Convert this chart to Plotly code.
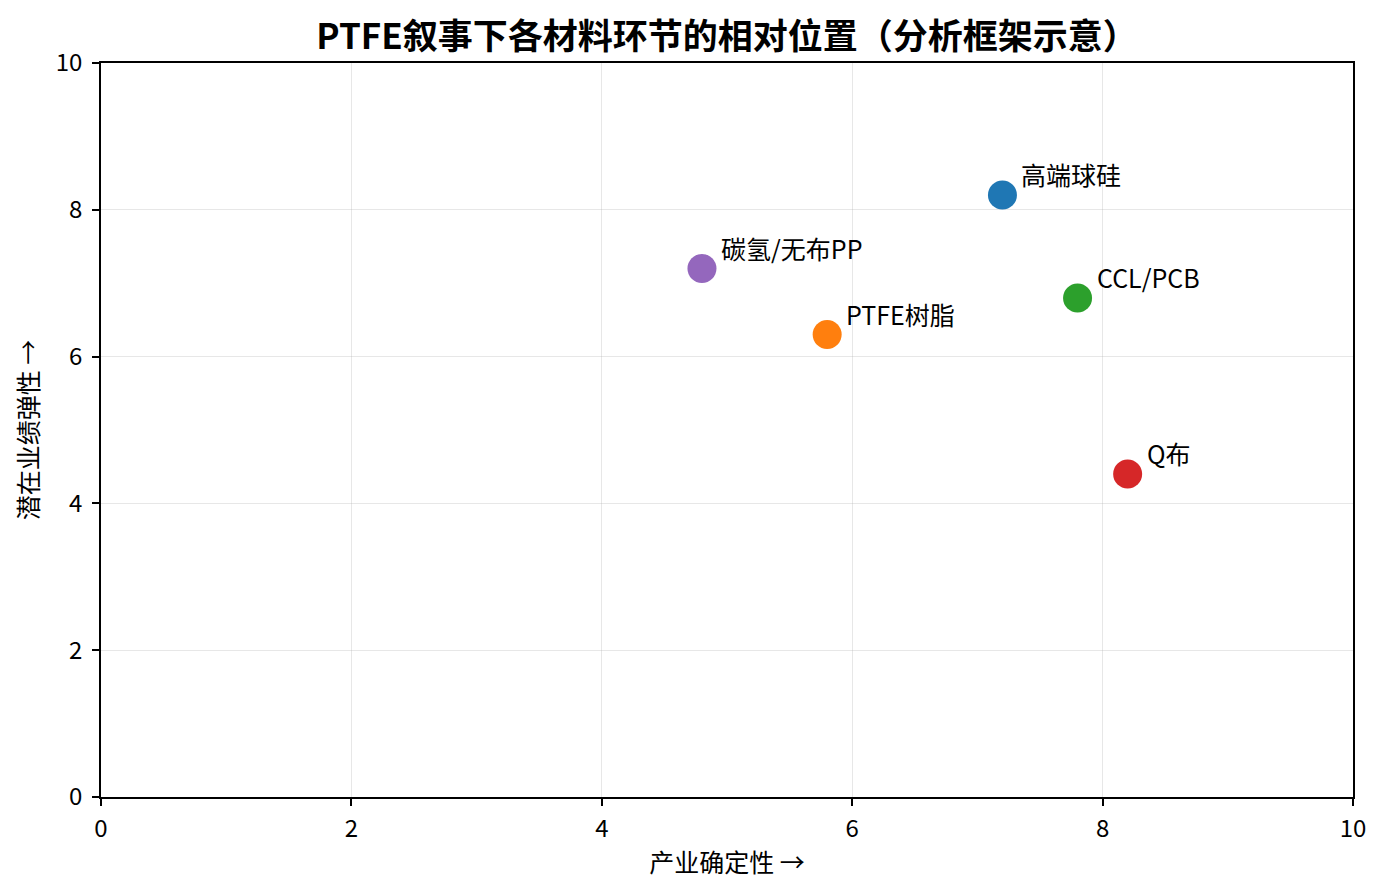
import plotly.graph_objects as go

FONT = "Noto Sans CJK SC, Noto Sans, sans-serif"

names = ["高端球硅", "PTFE树脂", "CCL/PCB", "Q布", "碳氢/无布PP"]
certainty = [7.2, 5.8, 7.8, 8.2, 4.8]
elasticity = [8.2, 6.3, 6.8, 4.4, 7.2]
colors = ["#1f77b4", "#ff7f0e", "#2ca02c", "#d62728", "#9467bd"]

fig = go.Figure()
fig.add_trace(
  go.Scatter(
    x=certainty,
    y=elasticity,
    mode="markers",
    marker=dict(size=29, color=colors, line=dict(width=0)),
    text=names,
    hovertemplate="%{text}<br>x=%{x}<br>y=%{y}<extra></extra>",
    showlegend=False,
  )
)

for name, x, y in zip(names, certainty, elasticity):
  fig.add_annotation(
    x=x,
    y=y,
    text=name,
    showarrow=False,
    xanchor="left",
    yanchor="bottom",
    xshift=17,
    yshift=1,
    font=dict(family=FONT, size=25, color="black"),
  )

axis_common = dict(
  range=[0, 10],
  dtick=2,
  showgrid=True,
  gridcolor="rgba(176,176,176,0.3)",
  gridwidth=1,
  zeroline=False,
  showline=True,
  linecolor="black",
  linewidth=1.5,
  mirror=True,
  ticks="outside",
  ticklen=7,
  tickwidth=1.5,
  tickcolor="black",
  tickfont=dict(family=FONT, size=24, color="black"),
)

fig.update_layout(
  width=1386,
  height=896,
  margin=dict(l=93, r=41, t=55, b=107),
  paper_bgcolor="white",
  plot_bgcolor="white",
  font=dict(family=FONT, color="black"),
  title=dict(
    text="<b>PTFE叙事下各材料环节的相对位置（分析框架示意）</b>",
    x=0.5,
    xanchor="center",
    xref="paper",
    y=0.968,
    yanchor="middle",
    font=dict(family=FONT, size=35, color="black"),
  ),
  xaxis=dict(
    title=dict(text="产业确定性 →", font=dict(family=FONT, size=25), standoff=12),
    ticklabelstandoff=2,
    **axis_common,
  ),
  yaxis=dict(
    title=dict(text="潜在业绩弹性 →", font=dict(family=FONT, size=25), standoff=10),
    ticklabelstandoff=5,
    **axis_common,
  ),
)

fig.write_html("out.html")
